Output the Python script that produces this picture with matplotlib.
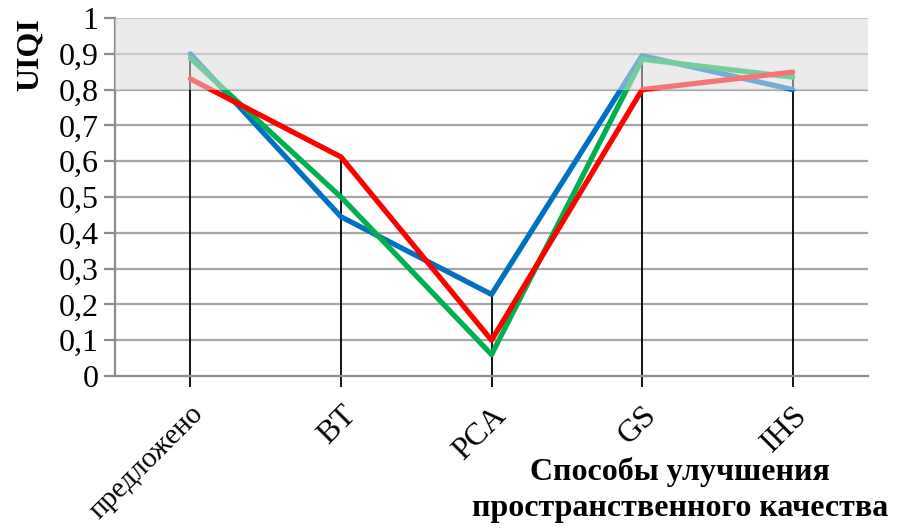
import matplotlib
matplotlib.use("Agg")
import matplotlib.pyplot as plt
import numpy as np

# categories and UIQI values
methods = ["предложено", "BT", "PCA", "GS", "IHS"]
blue_vals = [0.90, 0.445, 0.228, 0.895, 0.80]
green_vals = [0.888, 0.50, 0.06, 0.885, 0.835]
red_vals = [0.83, 0.612, 0.10, 0.80, 0.849]
y_ticks = [0, 0.1, 0.2, 0.3, 0.4, 0.5, 0.6, 0.7, 0.8, 0.9, 1.0]

plt.rcParams["font.family"] = ["Liberation Serif", "DejaVu Serif"]

fig = plt.figure(figsize=(9, 5.29), dpi=100)
ax = fig.add_axes([0.1278, 0.2892, 0.8367, 0.6767])

x = np.arange(len(methods))
ax.set_xlim(-0.5, len(methods) - 0.5)
ax.set_ylim(0, 1)

# shaded "good" zone
ax.axhspan(0.8, 1.0, color="#ebebeb", zorder=0, lw=0)

for t in y_ticks[1:]:
    ax.axhline(t, color="#a6a6a6", lw=1.6, zorder=1)

# high-low style drop lines from zero to the highest value
tops = np.max([blue_vals, green_vals, red_vals], axis=0)
ax.vlines(x, 0, tops, color="black", lw=1.3, zorder=2)

series = [(blue_vals, "#0070c0"), (green_vals, "#00b050"), (red_vals, "#ff0000")]
for vals, col in series:
    ax.plot(x, vals, color=col, lw=3.8, solid_joinstyle="round",
            solid_capstyle="round", zorder=3)

# band overlay fades the lines above 0.8
ax.axhspan(0.8, 1.0, color="#ebebeb", alpha=0.5, zorder=4, lw=0)

for s in ["top", "right"]:
    ax.spines[s].set_visible(False)
ax.spines["left"].set_color("#8c8c8c")
ax.spines["left"].set_linewidth(1.6)
ax.spines["bottom"].set_color("#8c8c8c")
ax.spines["bottom"].set_linewidth(1.6)

ax.set_yticks(y_ticks)
ax.set_yticklabels([("%g" % v).replace(".", ",") for v in y_ticks], fontsize=23)
ax.tick_params(axis="y", length=8, width=1.6, color="#8c8c8c", pad=4)

ax.set_xticks(x)
ax.set_xticklabels(methods, rotation=45, ha="right", rotation_mode="anchor",
                   fontsize=23)
ax.get_xticklabels()[0].set_fontsize(21)
ax.tick_params(axis="x", length=8, width=1.3, color="black", pad=10)

fig.text(0.034, 0.897, "UIQI", rotation=90, fontsize=23, fontweight="bold",
         ha="center", va="center")
fig.text(0.756, 0.074, "Способы улучшения\nпространственного качества",
         fontsize=23, fontweight="bold", ha="center", va="center",
         linespacing=1.35)

fig.savefig("out.png", dpi=100)
